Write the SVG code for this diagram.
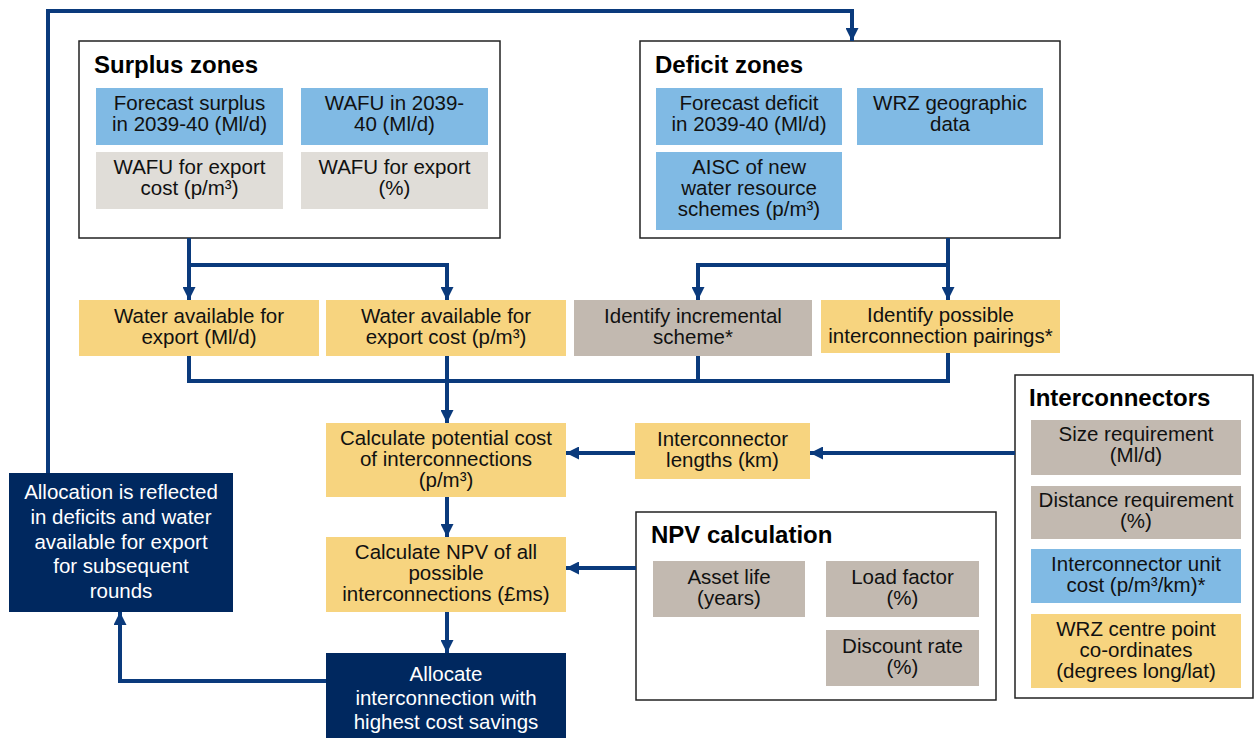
<svg xmlns="http://www.w3.org/2000/svg" width="1254" height="738" viewBox="0 0 1254 738">
<defs>
<style>
text{font-family:"Liberation Sans",Arial,sans-serif;font-size:20.5px;fill:#111;text-anchor:middle}
.t{font-size:24px;font-weight:bold;text-anchor:start;fill:#000}
.w{fill:#fff}
.frame{fill:#fff;stroke:#222;stroke-width:1.5}
.blue{fill:#80bae4}
.lg{fill:#e0ddd8}
.gb{fill:#c2b9b0}
.y{fill:#f7d47f}
.nv{fill:#00285f}
.c path{fill:none;stroke:#0a3a7c;stroke-width:4}
.a{marker-end:url(#ah)}
</style>
<marker id="ah" viewBox="0 0 10 10" refX="10" refY="5" markerWidth="13" markerHeight="13" markerUnits="userSpaceOnUse" orient="auto"><path d="M0,0 L10,5 L0,10 z" fill="#0a3a7c"/></marker>
</defs>
<rect width="1254" height="738" fill="#fff"/>

<g id="surplus">
<rect class="frame" x="79" y="41" width="421" height="197"/>
<text class="t" x="94" y="73">Surplus zones</text>
<rect class="blue" x="96" y="88" width="187" height="57"/>
<text x="189.5" y="110">Forecast surplus</text><text x="189.5" y="131">in 2039-40 (Ml/d)</text>
<rect class="blue" x="301" y="88" width="187" height="57"/>
<text x="394.5" y="110">WAFU in 2039-</text><text x="394.5" y="131">40 (Ml/d)</text>
<rect class="lg" x="96" y="152" width="187" height="57"/>
<text x="189.5" y="174">WAFU for export</text><text x="189.5" y="195">cost (p/m³)</text>
<rect class="lg" x="301" y="152" width="187" height="57"/>
<text x="394.5" y="174">WAFU for export</text><text x="394.5" y="195">(%)</text>
</g>

<g id="deficit">
<rect class="frame" x="640" y="41" width="420" height="197"/>
<text class="t" x="655" y="73">Deficit zones</text>
<rect class="blue" x="656" y="88" width="186" height="57"/>
<text x="749" y="110">Forecast deficit</text><text x="749" y="131">in 2039-40 (Ml/d)</text>
<rect class="blue" x="857" y="88" width="186" height="57"/>
<text x="950" y="110">WRZ geographic</text><text x="950" y="131">data</text>
<rect class="blue" x="656" y="152" width="186" height="78"/>
<text x="749" y="174">AISC of new</text><text x="749" y="195">water resource</text><text x="749" y="216">schemes (p/m³)</text>
</g>

<g id="wafe"><rect class="y" x="79" y="300" width="240" height="56"/>
<text x="199" y="323">Water available for</text><text x="199" y="344">export (Ml/d)</text></g>
<g id="wafec"><rect class="y" x="326" y="300" width="240" height="56"/>
<text x="446" y="323">Water available for</text><text x="446" y="344">export cost (p/m³)</text></g>
<g id="incr"><rect class="gb" x="574" y="300" width="238" height="56"/>
<text x="693" y="323">Identify incremental</text><text x="693" y="344">scheme*</text></g>
<g id="pair"><rect class="y" x="821" y="300" width="239" height="53"/>
<text x="940.5" y="322">Identify possible</text><text x="940.5" y="343">interconnection pairings*</text></g>

<g id="calc"><rect class="y" x="326" y="423" width="240" height="74"/>
<text x="446" y="445">Calculate potential cost</text><text x="446" y="466">of interconnections</text><text x="446" y="487">(p/m³)</text></g>
<g id="lengths"><rect class="y" x="635" y="423" width="175" height="56"/>
<text x="722.5" y="446">Interconnector</text><text x="722.5" y="467">lengths (km)</text></g>
<g id="npv"><rect class="y" x="326" y="537" width="240" height="75"/>
<text x="446" y="559">Calculate NPV of all</text><text x="446" y="580">possible</text><text x="446" y="601">interconnections (£ms)</text></g>
<g id="allocate"><rect class="nv" x="326" y="653" width="240" height="85"/>
<text class="w" x="446" y="681">Allocate</text><text class="w" x="446" y="705">interconnection with</text><text class="w" x="446" y="729">highest cost savings</text></g>
<g id="allocation"><rect class="nv" x="9" y="473" width="224" height="139"/>
<text class="w" x="121" y="499">Allocation is reflected</text><text class="w" x="121" y="524">in deficits and water</text><text class="w" x="121" y="549">available for export</text><text class="w" x="121" y="573">for subsequent</text><text class="w" x="121" y="598">rounds</text></g>

<g id="npvcalc">
<rect class="frame" x="636" y="512" width="360" height="188"/>
<text class="t" x="651" y="543">NPV calculation</text>
<rect class="gb" x="653" y="561" width="152" height="56"/>
<text x="729" y="584">Asset life</text><text x="729" y="605">(years)</text>
<rect class="gb" x="826" y="561" width="153" height="56"/>
<text x="902.5" y="584">Load factor</text><text x="902.5" y="605">(%)</text>
<rect class="gb" x="826" y="630" width="153" height="56"/>
<text x="902.5" y="653">Discount rate</text><text x="902.5" y="674">(%)</text>
</g>

<g id="interconnectors">
<rect class="frame" x="1015" y="375" width="238" height="323"/>
<text class="t" x="1029" y="406">Interconnectors</text>
<rect class="gb" x="1031" y="420" width="210" height="55"/>
<text x="1136" y="441">Size requirement</text><text x="1136" y="462">(Ml/d)</text>
<rect class="gb" x="1031" y="486" width="210" height="53"/>
<text x="1136" y="507">Distance requirement</text><text x="1136" y="528">(%)</text>
<rect class="blue" x="1031" y="549" width="210" height="54"/>
<text x="1136" y="571">Interconnector unit</text><text x="1136" y="592">cost (p/m³/km)*</text>
<rect class="y" x="1031" y="614" width="210" height="74"/>
<text x="1136" y="636">WRZ centre point</text><text x="1136" y="657">co-ordinates</text><text x="1136" y="678">(degrees long/lat)</text>
</g>

<g id="connectors" class="c">
<path class="a" d="M48,473 V11 H852 V41"/>
<path class="a" d="M189,238 V300"/>
<path class="a" d="M189,265 H447 V300"/>
<path class="a" d="M948,238 V300"/>
<path class="a" d="M948,265 H698 V300"/>
<path d="M189,356 V381 H948 V353"/>
<path d="M698,356 V381"/>
<path class="a" d="M447,356 V423"/>
<path class="a" d="M1015,453 H810"/>
<path class="a" d="M635,453 H566"/>
<path class="a" d="M447,497 V537"/>
<path class="a" d="M636,568 H566"/>
<path class="a" d="M447,612 V653"/>
<path class="a" d="M326,681 H120 V612"/>
</g>
</svg>
